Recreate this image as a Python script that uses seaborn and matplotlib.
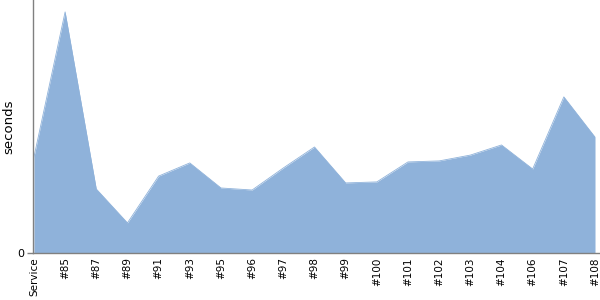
import matplotlib
matplotlib.use("Agg")
import matplotlib.pyplot as plt
import seaborn as sns
import numpy as np
import pandas as pd

categories = ["Service", "#85", "#87", "#89", "#91", "#93", "#95", "#96", "#97",
              "#98", "#99", "#100", "#101", "#102", "#103", "#104", "#106", "#107", "#108"]
seconds = [37.9, 95.3, 25.3, 11.9, 30.4, 35.6, 25.7, 24.9, 33.6,
           41.9, 27.7, 28.1, 36.0, 36.4, 38.7, 42.7, 33.2, 61.7, 45.8]

sns.set_theme(style="white")
plt.rcParams['font.family'] = ['DejaVu Sans']

df = pd.DataFrame({"x": np.arange(len(categories)), "seconds": seconds})
fill = "#8FB2DA"

fig = plt.figure(figsize=(6, 3), dpi=100)
ax = fig.add_axes([33/600, 47/300, 567/600, 253/300])
sns.lineplot(data=df, x="x", y="seconds", ax=ax, color=fill, linewidth=0.6)
ax.fill_between(df["x"], 0, df["seconds"], color=fill, linewidth=0)

ax.set_xlim(-0.03, 18.16)
ax.set_ylim(0, 100)
ax.set_xticks(df["x"])
ax.set_xticklabels(categories, rotation=90, fontsize=7.5, color="black")
ax.set_yticks([0])
ax.set_yticklabels(["0"], fontsize=8, color="black")
ax.set_xlabel("")
ax.set_ylabel("seconds", fontsize=9.5, color="black")
ax.yaxis.set_label_coords(-0.032, 0.50)
for s in ["top", "right"]:
    ax.spines[s].set_visible(False)
for s in ["left", "bottom"]:
    ax.spines[s].set_color("#808080")
    ax.spines[s].set_linewidth(1)
ax.tick_params(axis="y", length=4, width=1, color="#808080", pad=2, left=True)
ax.tick_params(axis="x", length=0, pad=3)

fig.savefig("out.png", dpi=100)
